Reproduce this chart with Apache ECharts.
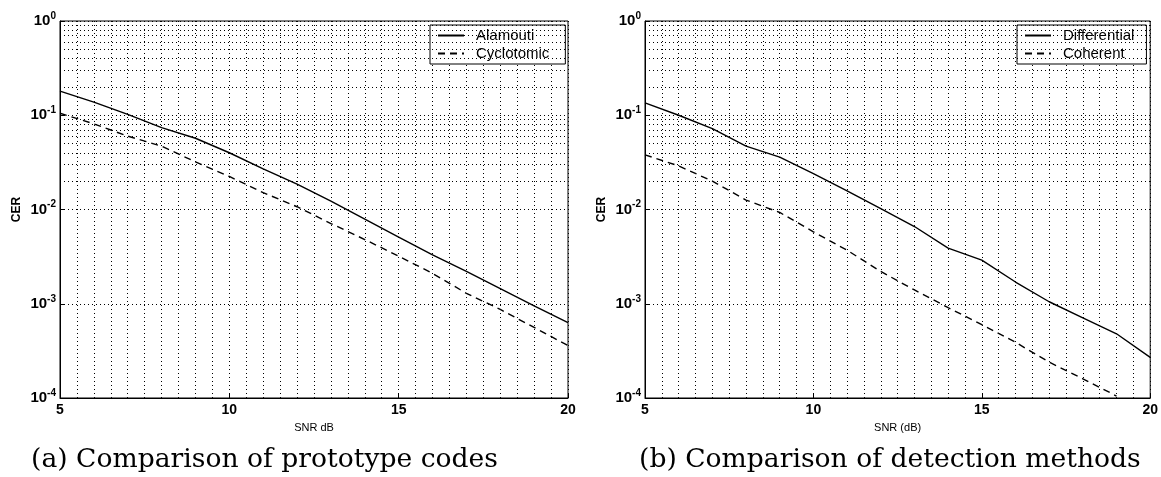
<!DOCTYPE html>
<html>
<head>
<meta charset="utf-8">
<script src="https://cdn.jsdelivr.net/npm/echarts@6/dist/echarts.min.js"></script>
<style>
  html, body { margin: 0; padding: 0; background: #fff; }
  #chart { width: 1161px; height: 477px; }
</style>
</head>
<body>
<div id="chart"></div>
<script>
// SNR points (dB)
const snr = [5, 6, 7, 8, 9, 10, 11, 12, 13, 14, 15, 16, 17, 18, 19, 20];

// (a) prototype codes
const alamouti = [0.18, 0.138, 0.102, 0.074, 0.057, 0.040, 0.027, 0.0186, 0.0123, 0.0079, 0.0051, 0.0033, 0.0022, 0.00145, 0.00095, 0.00063];
const cyclotomic = [0.105, 0.081, 0.060, 0.047, 0.032, 0.0224, 0.0151, 0.0107, 0.0071, 0.0048, 0.0032, 0.0021, 0.00129, 0.00087, 0.00056, 0.00036];

// (b) detection methods
const differential = [0.135, 0.10, 0.072, 0.047, 0.036, 0.024, 0.0158, 0.0102, 0.0066, 0.0039, 0.0029, 0.0017, 0.00105, 0.00071, 0.00048, 0.00027];
const coherent = [0.038, 0.029, 0.020, 0.0126, 0.0093, 0.0058, 0.0037, 0.0022, 0.0014, 0.00091, 0.0006, 0.00039, 0.00024, 0.00016, 0.000105];

const xTicks = [5, 10, 15, 20];
const captions = ["(a) Comparison of prototype codes", "(b) Comparison of detection methods"];
const xNames = ["SNR dB", "SNR (dB)"];

// minor log grid lines: 2..9 x 10^k
let minorGrid = [];
for (let k = -4; k < 0; k++) {
  for (let m = 2; m <= 9; m++) minorGrid.push(m * Math.pow(10, k));
}

const dotted = { color: "#000", width: 1, type: [1, 3] };
const grids = [
  { left: 60, top: 21, width: 508, height: 377 },
  { left: 645, top: 21, width: 508, height: 377 },
];

function pairs(ys) {
  return ys.map((y, i) => [snr[i], y]);
}

function makeX(i) {
  return {
    type: "value",
    gridIndex: i,
    min: 5,
    max: 20,
    interval: 5,
    name: xNames[i],
    nameLocation: "middle",
    nameGap: 24,
    nameTextStyle: { fontFamily: "Liberation Sans", fontSize: 11, color: "#000" },
    axisLine: { show: true, lineStyle: { color: "#000", width: 1 } },
    axisTick: { show: true, inside: true, length: 4, lineStyle: { color: "#000" } },
    axisLabel: {
      color: "#000",
      fontFamily: "Liberation Sans",
      fontWeight: "bold",
      fontSize: 14,
      margin: 5,
      formatter: (v) => (xTicks.indexOf(v) >= 0 ? String(v) : ""),
    },
    splitLine: { show: true, lineStyle: dotted },
    minorTick: { show: false, splitNumber: 10 },
    minorSplitLine: { show: true, lineStyle: dotted },
  };
}

function makeY(i) {
  return {
    type: "log",
    logBase: 10,
    gridIndex: i,
    min: 1e-4,
    max: 1,
    name: "CER",
    nameLocation: "middle",
    nameGap: 37,
    nameTextStyle: { fontFamily: "Liberation Sans", fontSize: 12, fontWeight: "bold", color: "#000" },
    axisLine: { show: true, lineStyle: { color: "#000", width: 1 } },
    axisTick: { show: true, inside: true, length: 4, lineStyle: { color: "#000" } },
    axisLabel: {
      margin: 4,
      formatter: (v) => "{b|10}{e|" + Math.round(Math.log10(v)) + "}",
      rich: {
        b: { fontFamily: "Liberation Sans", fontWeight: "bold", fontSize: 15, color: "#000" },
        e: { fontFamily: "Liberation Sans", fontWeight: "bold", fontSize: 10, color: "#000", padding: [0, 0, 10, 0] },
      },
    },
    splitLine: { show: true, lineStyle: dotted },
  };
}

function lineSeries(name, data, i, dashed, withGrid) {
  const s = {
    name: name,
    type: "line",
    xAxisIndex: i,
    yAxisIndex: i,
    data: pairs(data),
    symbol: "none",
    clip: true,
    itemStyle: { color: "#000" },
    lineStyle: { color: "#000", width: 1.4, type: dashed ? [7, 5] : "solid" },
  };
  if (withGrid) {
    s.markLine = {
      silent: true,
      symbol: "none",
      label: { show: false },
      lineStyle: dotted,
      data: minorGrid.map((v) => ({ yAxis: v })),
    };
  }
  return s;
}

function makeLegend(names, left, padRight) {
  return {
    data: names,
    orient: "vertical",
    left: left,
    top: 25,
    padding: [3, padRight, 3, 7],
    itemGap: 3,
    itemWidth: 26,
    itemHeight: 14,
    borderColor: "#000",
    borderWidth: 1,
    backgroundColor: "#fff",
    itemStyle: { opacity: 0 },
    textStyle: { fontFamily: "Liberation Sans", fontSize: 15, color: "#000", padding: [0, 0, 0, 7] },
  };
}

const chart = echarts.init(document.getElementById("chart"));
chart.setOption({
  backgroundColor: "#fff",
  animation: false,
  title: captions.map((t, i) => ({
    text: t,
    left: i === 0 ? 31 : 639,
    top: 447,
    padding: 0,
    textStyle: { fontFamily: "DejaVu Serif", fontWeight: "normal", fontSize: 26.6, color: "#000" },
  })),
  grid: grids.map((g) => Object.assign({ show: true, borderColor: "#000", borderWidth: 1, backgroundColor: "transparent" }, g)),
  legend: [
    makeLegend(["Alamouti", "Cyclotomic"], 430, 16),
    makeLegend(["Differential", "Coherent"], 1017, 12),
  ],
  xAxis: [makeX(0), makeX(1)],
  yAxis: [makeY(0), makeY(1)],
  series: [
    lineSeries("Alamouti", alamouti, 0, false, true),
    lineSeries("Cyclotomic", cyclotomic, 0, true, false),
    lineSeries("Differential", differential, 1, false, true),
    lineSeries("Coherent", coherent, 1, true, false),
  ],
});
</script>
</body>
</html>
